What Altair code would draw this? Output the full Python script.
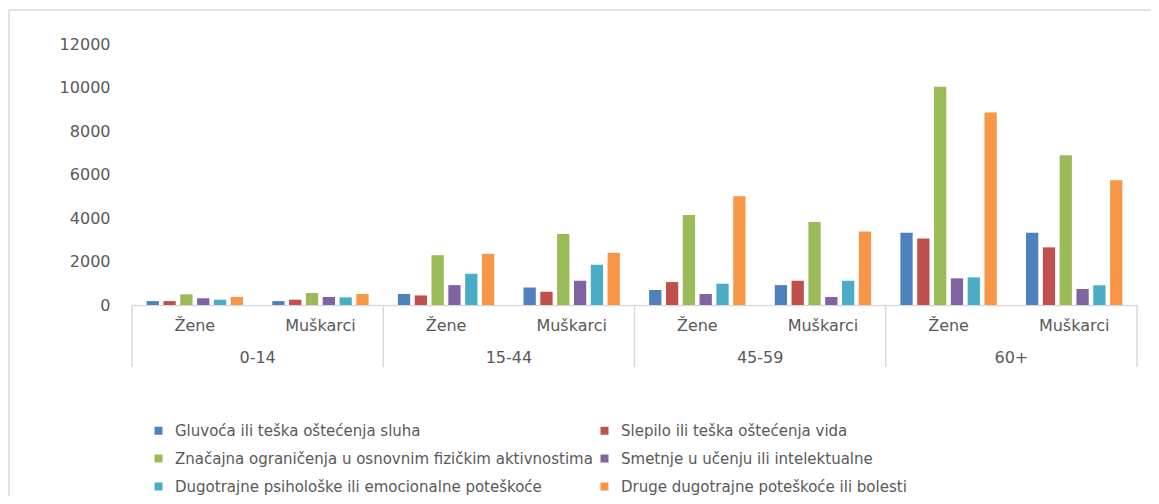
import altair as alt
import pandas as pd

ages = ["0-14", "15-44", "45-59", "60+"]
sexes = ["Žene", "Muškarci"]
series = [
    "Gluvoća ili teška oštećenja sluha",
    "Slepilo ili teška oštećenja vida",
    "Značajna ograničenja u osnovnim fizičkim aktivnostima",
    "Smetnje u učenju ili intelektualne",
    "Dugotrajne psihološke ili emocionalne poteškoće",
    "Druge dugotrajne poteškoće ili bolesti",
]
colors = ["#4F81BD", "#C0504D", "#9BBB59", "#8064A2", "#4BACC6", "#F79646"]

# order: 0-14 Ž, 0-14 M, 15-44 Ž, 15-44 M, 45-59 Ž, 45-59 M, 60+ Ž, 60+ M
gluvoca = [180, 180, 505, 805, 690, 915, 3320, 3320]
slepilo = [180, 245, 440, 610, 1055, 1115, 3060, 2650]
znacajna = [490, 550, 2290, 3270, 4140, 3820, 10030, 6880]
smetnje = [310, 370, 915, 1115, 505, 370, 1225, 735]
psiho = [245, 350, 1435, 1850, 980, 1115, 1270, 905]
druge = [370, 505, 2350, 2400, 5000, 3380, 8850, 5735]
y_ticks = [0, 2000, 4000, 6000, 8000, 10000, 12000]

values_by_series = [gluvoca, slepilo, znacajna, smetnje, psiho, druge]
keys = [f"{a}|{s}" for a in ages for s in sexes]
rows = []
for name, vals in zip(series, values_by_series):
    for k, v in zip(keys, vals):
        rows.append({"key": k, "series": name, "value": v})
df = pd.DataFrame(rows)

# legend is filled column by column; reorder so rows read pairwise
leg_order = [0, 2, 4, 1, 3, 5]
leg_domain = [series[i] for i in leg_order]
leg_range = [colors[i] for i in leg_order]

W, H = 1005, 261
FONT = "DejaVu Sans"
TXT = "#595959"
LINE = "#D9D9D9"

bars = alt.Chart(df).mark_bar().encode(
    x=alt.X("key:N", sort=keys,
            scale=alt.Scale(paddingInner=0.233, paddingOuter=0.1165),
            axis=alt.Axis(title=None, labelExpr="split(datum.label, '|')[1]",
                          ticks=False, domainColor=LINE, domainWidth=1.5,
                          labelAngle=0, labelPadding=12, labelFont=FONT,
                          labelFontSize=16, labelColor=TXT)),
    xOffset=alt.XOffset("series:N", sort=series,
                        scale=alt.Scale(paddingInner=0.27, paddingOuter=0)),
    y=alt.Y("value:Q", scale=alt.Scale(domain=[0, 12000]),
            axis=alt.Axis(title=None, values=y_ticks, format="d", grid=False,
                          domain=False, ticks=False, labelPadding=22,
                          labelFont=FONT, labelFontSize=16, labelColor=TXT)),
    color=alt.Color("series:N",
                    scale=alt.Scale(domain=leg_domain, range=leg_range),
                    legend=alt.Legend(title=None, orient="none", legendX=19,
                                      legendY=379, columns=2, columnPadding=4,
                                      rowPadding=12, symbolType="square",
                                      symbolSize=64, symbolStrokeWidth=0,
                                      labelFont=FONT, labelFontSize=15,
                                      labelColor=TXT, labelLimit=600,
                                      labelOffset=9, padding=0)),
)

bounds = pd.DataFrame({"b": list(range(len(ages) + 1))})
seps = alt.Chart(bounds).mark_rule(color=LINE, strokeWidth=1.5).encode(
    x=alt.X("b:Q", scale=alt.Scale(domain=[0, len(ages)]), axis=None),
    y=alt.value(H),
    y2=alt.value(H + 62),
)

grp = pd.DataFrame({"age": ages, "pos": [i + 0.5 for i in range(len(ages))]})
grp_text = alt.Chart(grp).mark_text(font=FONT, fontSize=16, color=TXT,
                                    baseline="middle").encode(
    x=alt.X("pos:Q", scale=alt.Scale(domain=[0, len(ages)]), axis=None),
    y=alt.value(H + 53),
    text="age:N",
)

one = pd.DataFrame({"d": [0]})
border_left = alt.Chart(one).mark_rule(color=LINE, strokeWidth=1.5).encode(
    x=alt.value(-123), y=alt.value(-34), y2=alt.value(470))
border_top = alt.Chart(one).mark_rule(color=LINE, strokeWidth=1.5).encode(
    x=alt.value(-123), x2=alt.value(1030), y=alt.value(-34))

chart = alt.layer(bars, seps, grp_text, border_left, border_top).resolve_scale(
    x="independent"
).properties(
    width=W, height=H,
    padding={"left": 124, "top": 36, "right": 14, "bottom": 191},
    autosize=alt.AutoSizeParams(type="none"),
).configure_view(stroke=None)

chart.save("out.html", embed_options={"renderer": "svg", "actions": False})
